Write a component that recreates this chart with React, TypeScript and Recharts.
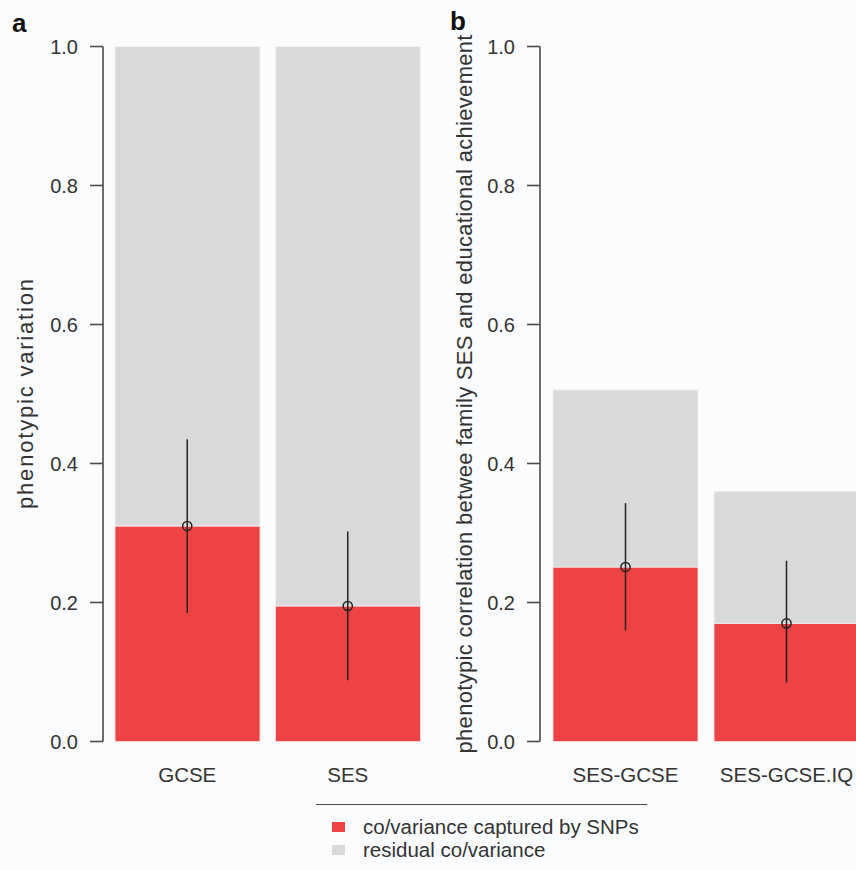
import React from 'react';
import { ComposedChart, Bar, Scatter, ErrorBar, XAxis, YAxis } from 'recharts';

// panel a: variance captured by SNPs
const aCategories = ['GCSE', 'SES'];
const aSnp = [0.31, 0.195];
const aTotal = [1.0, 1.0];
const aLow = [0.185, 0.088];
const aHigh = [0.435, 0.302];

// panel b: covariance captured by SNPs
const bCategories = ['SES-GCSE', 'SES-GCSE.IQ'];
const bSnp = [0.251, 0.17];
const bTotal = [0.506, 0.36];
const bLow = [0.16, 0.085];
const bHigh = [0.343, 0.26];

const yTicks = [0, 0.2, 0.4, 0.6, 0.8, 1.0];
const seriesNames = ['co/variance captured by SNPs', 'residual co/variance'];

const RED = '#ee4345';
const GREY = '#d9d9d9';
const INK = '#333';
const AXIS = '#4a4a4a';
const FONT = '"Liberation Sans", Arial, Helvetica, sans-serif';

const buildRows = (cats: string[], snp: number[], total: number[], low: number[], high: number[]) =>
  cats.map((name, i) => ({
    name,
    snp: snp[i],
    residual: total[i] - snp[i],
    err: [snp[i] - low[i], high[i] - snp[i]],
  }));

const Ring = (props: any) => {
  const { cx, cy } = props;
  return <circle cx={cx} cy={cy} r={4.6} fill="none" stroke="#222" strokeWidth={1.5} />;
};

const Panel = ({ data, left, width, axisWidth, padding, label, labelX, labelLength }: any) => {
  const VLabel = (p: any) => {
    const vb = p.viewBox;
    const cy = vb.y + vb.height / 2;
    return (
      <text
        x={labelX}
        y={cy}
        transform={`rotate(-90, ${labelX}, ${cy})`}
        textAnchor="middle"
        dominantBaseline="central"
        fontSize={22}
        fill={INK}
        textLength={labelLength}
        style={{ fontFamily: FONT }}
      >
        {label}
      </text>
    );
  };
  return (
    <div style={{ position: 'absolute', left, top: 0 }}>
      <ComposedChart
        width={width}
        height={800}
        data={data}
        margin={{ top: 46.5, right: 2, bottom: 8.5, left: 0 }}
        style={{ fontFamily: FONT }}
      >
        <XAxis
          dataKey="name"
          axisLine={false}
          tickLine={false}
          tickMargin={19.5}
          height={50}
          padding={padding}
          tick={{ fill: INK, fontSize: 20.5 }}
          interval={0}
        />
        <YAxis
          domain={[0, 1]}
          ticks={yTicks}
          width={axisWidth}
          tickSize={13}
          tickMargin={12}
          tickFormatter={(v: number) => v.toFixed(1)}
          axisLine={{ stroke: AXIS, strokeWidth: 1.6 }}
          tickLine={{ stroke: AXIS, strokeWidth: 1.6 }}
          tick={{ fill: INK, fontSize: 20 }}
          label={{ content: VLabel }}
        />
        <Bar dataKey="snp" stackId="s" fill={RED} barSize={145} stroke="#fbe3e3" strokeWidth={0.8} isAnimationActive={false} />
        <Bar dataKey="residual" stackId="s" fill={GREY} barSize={145} stroke="#f3f3f3" strokeWidth={0.8} isAnimationActive={false} />
        <Scatter dataKey="snp" shape={Ring} isAnimationActive={false}>
          <ErrorBar dataKey="err" direction="y" width={0} stroke="#222" strokeWidth={1.5} />
        </Scatter>
      </ComposedChart>
    </div>
  );
};

export default function App() {
  const aRows = buildRows(aCategories, aSnp, aTotal, aLow, aHigh);
  const bRows = buildRows(bCategories, bSnp, bTotal, bLow, bHigh);
  const legendColors = [RED, GREY];
  return (
    <div
      style={{
        position: 'absolute',
        left: 0,
        top: 0,
        width: 856,
        height: 870,
        background: '#fbfcfe',
        overflow: 'hidden',
        fontFamily: FONT,
        color: INK,
      }}
    >
      <div style={{ position: 'absolute', left: 12, top: 8, fontSize: 26, fontWeight: 'bold', color: '#111' }}>a</div>
      <div style={{ position: 'absolute', left: 450, top: 6, fontSize: 26, fontWeight: 'bold', color: '#111' }}>b</div>
      <Panel
        data={aRows}
        left={0}
        width={434}
        axisWidth={103}
        padding={{ left: 4, right: 4 }}
        label="phenotypic variation"
        labelX={25}
        labelLength={230}
      />
      <Panel
        data={bRows}
        left={430}
        width={444}
        axisWidth={110}
        padding={{ left: 5, right: 5 }}
        label="phenotypic correlation betwee family SES and educational achievement"
        labelX={34}
        labelLength={719}
      />
      <div style={{ position: 'absolute', left: 316, top: 804, width: 331, borderTop: `1.6px solid ${AXIS}` }} />
      {seriesNames.map((name, i) => (
        <div
          key={name}
          style={{
            position: 'absolute',
            left: 332,
            top: 815 + i * 23,
            height: 24,
            display: 'flex',
            alignItems: 'center',
            fontSize: 20.5,
            whiteSpace: 'nowrap',
          }}
        >
          <span style={{ display: 'inline-block', width: 13, height: 10, background: legendColors[i], marginRight: 18 }} />
          {name}
        </div>
      ))}
    </div>
  );
}
